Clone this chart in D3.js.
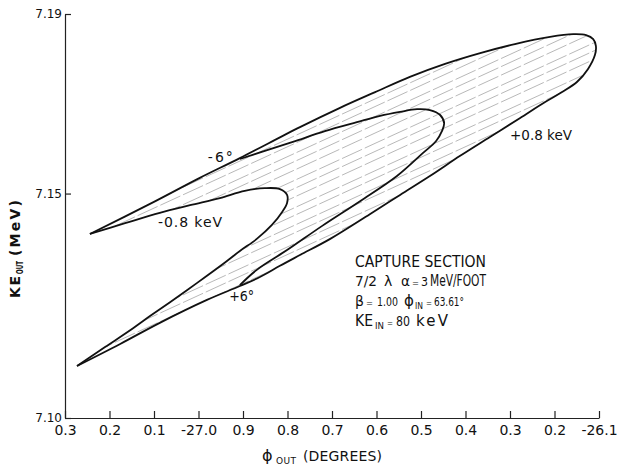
<!DOCTYPE html>
<html>
<head>
<meta charset="utf-8">
<script src="https://cdnjs.cloudflare.com/ajax/libs/d3/7.8.5/d3.min.js"></script>
<style>
  body { margin: 0; background: #fff; }
  svg { display: block; font-family: 'DejaVu Sans', sans-serif; }
</style>
</head>
<body>
<svg width="620" height="471"></svg>
<script>
// phase axis is printed with only the last digits, except at -27.0 and -26.1
const phiTicks = [-27.3, -27.2, -27.1, -27.0, -26.9, -26.8, -26.7, -26.6, -26.5, -26.4, -26.3, -26.2, -26.1];
const phiTickLabels = ['0.3', '0.2', '0.1', '-27.0', '0.9', '0.8', '0.7', '0.6', '0.5', '0.4', '0.3', '0.2', '-26.1'];
const keTicks = [7.10, 7.15, 7.19];
const keTickLabels = ['7.10', '7.15', '7.19'];

// [phi_out (deg), KE_out (MeV)]
// -0.8 keV contour, from the upper tip round its nose to the lower tip
const minusKevCurve = [
  [-27.244, 7.1410], [-27.165, 7.1434], [-27.087, 7.1457], [-27.019, 7.1474],
  [-26.952, 7.1490], [-26.896, 7.1506], [-26.851, 7.1512], [-26.817, 7.1510],
  [-26.801, 7.1497], [-26.801, 7.1479], [-26.812, 7.1459], [-26.835, 7.1430],
  [-26.869, 7.1399], [-26.907, 7.1372], [-26.945, 7.1343], [-27.003, 7.1301],
  [-27.064, 7.1258], [-27.109, 7.1227], [-27.147, 7.1200], [-27.210, 7.1158],
  [-27.273, 7.1116]
];
// -6 deg line, +0.8 keV contour and +6 deg line as one outer boundary
const outerCurve = [
  [-27.244, 7.1410], [-27.109, 7.1477], [-26.997, 7.1535], [-26.907, 7.1579],
  [-26.772, 7.1648], [-26.682, 7.1691], [-26.603, 7.1726], [-26.525, 7.1760],
  [-26.446, 7.1789], [-26.367, 7.1813], [-26.289, 7.1833], [-26.210, 7.1849],
  [-26.158, 7.1855], [-26.129, 7.1853], [-26.113, 7.1844], [-26.107, 7.1829],
  [-26.109, 7.1809], [-26.125, 7.1777], [-26.149, 7.1749], [-26.183, 7.1726],
  [-26.221, 7.1704], [-26.278, 7.1668], [-26.345, 7.1626], [-26.412, 7.1584],
  [-26.480, 7.1539], [-26.547, 7.1497], [-26.615, 7.1454], [-26.704, 7.1399],
  [-26.772, 7.1363], [-26.817, 7.1339], [-26.862, 7.1314], [-26.907, 7.1294],
  [-26.981, 7.1263], [-27.087, 7.1212], [-27.176, 7.1165], [-27.273, 7.1116]
];
// inner fold between the two phase lines
const middleCurve = [
  [-26.907, 7.1577], [-26.851, 7.1595], [-26.788, 7.1615], [-26.716, 7.1639],
  [-26.644, 7.1659], [-26.592, 7.1673], [-26.547, 7.1682], [-26.509, 7.1688],
  [-26.480, 7.1686], [-26.457, 7.1675], [-26.448, 7.1657], [-26.453, 7.1639],
  [-26.466, 7.1617], [-26.496, 7.1590], [-26.554, 7.1539], [-26.637, 7.1483],
  [-26.722, 7.1428], [-26.801, 7.1374], [-26.869, 7.1330], [-26.907, 7.1296]
];

// hatching (intermediate phases): KE at the left and right ends
const hatchPhi = [-27.29, -26.10];
const hatchKeLeft = [7.1398, 7.1381, 7.1359, 7.1341, 7.1322, 7.1299, 7.1281, 7.1262,
                     7.1238, 7.1221, 7.1199, 7.1182, 7.1158, 7.1141, 7.1122];
const hatchKeRight = [7.1940, 7.1923, 7.1901, 7.1883, 7.1864, 7.1841, 7.1823, 7.1804,
                      7.1780, 7.1763, 7.1741, 7.1724, 7.1700, 7.1683, 7.1664];

const curveLabels = ['-6°', '-0.8 keV', '+6°', '+0.8 keV'];
const curveLabelPhi = [-26.979, -27.091, -26.931, -26.300];
const curveLabelKe = [7.1570, 7.1425, 7.1261, 7.1619];

const svg = d3.select('svg');
const x = d3.scaleLinear().domain([-27.3, -26.1]).range([65, 599]);
const y = d3.scaleLinear().domain([7.10, 7.19]).range([418, 14]);

// stretch or squeeze a text to the width it has in the drawing
function fit(sel, len) {
  sel.each(function() {
    const w = this.getComputedTextLength();
    d3.select(this)
      .attr('textLength', len)
      .attr('lengthAdjust', w > len ? 'spacingAndGlyphs' : 'spacing');
  });
}

const line = d3.line()
  .x(d => x(d[0]))
  .y(d => y(d[1]))
  .curve(d3.curveCatmullRom.alpha(0.5));

// hatch lines only inside the band between the outer boundary and -0.8 keV
const clipD = line(outerCurve) + line(minusKevCurve.slice().reverse()).replace(/^M/, 'L') + 'Z';
svg.append('defs').append('clipPath').attr('id', 'band')
  .append('path').attr('d', clipD);

svg.append('g')
  .attr('clip-path', 'url(#band)')
  .selectAll('line')
  .data(hatchKeLeft)
  .join('line')
  .attr('x1', x(hatchPhi[0]))
  .attr('y1', d => y(d))
  .attr('x2', x(hatchPhi[1]))
  .attr('y2', (d, i) => y(hatchKeRight[i]))
  .attr('stroke', '#888')
  .attr('stroke-width', 0.6)
  .attr('stroke-dasharray', '22 3');

svg.append('g')
  .attr('fill', 'none')
  .attr('stroke', '#111')
  .attr('stroke-width', 1.8)
  .attr('stroke-linejoin', 'round')
  .selectAll('path')
  .data([minusKevCurve, outerCurve, middleCurve])
  .join('path')
  .attr('d', d => line(d));

// axes, ticks pointing inwards
const xAxis = svg.append('g')
  .attr('transform', 'translate(0,418)')
  .call(d3.axisBottom(x)
    .tickValues(phiTicks)
    .tickFormat((d, i) => phiTickLabels[i])
    .tickSizeInner(-7)
    .tickSizeOuter(0)
    .tickPadding(7));

const yAxis = svg.append('g')
  .attr('transform', 'translate(65,0)')
  .call(d3.axisLeft(y)
    .tickValues(keTicks)
    .tickFormat((d, i) => keTickLabels[i])
    .tickSizeInner(-6)
    .tickSizeOuter(0)
    .tickPadding(3));

[xAxis, yAxis].forEach(g => {
  g.attr('font-family', null);
  g.selectAll('path, line').attr('stroke', '#222').attr('stroke-width', 1.2);
  g.selectAll('text').attr('fill', '#111');
});
xAxis.attr('font-size', 14);
yAxis.attr('font-size', 12);

// labels on the curves
const lbl = svg.append('g').attr('font-size', 14).attr('fill', '#111');
lbl.selectAll('text')
  .data(curveLabels)
  .join('text')
  .attr('x', (d, i) => x(curveLabelPhi[i]))
  .attr('y', (d, i) => y(curveLabelKe[i]))
  .text(d => d);
const lblWidths = [25, 64, 25, 62];
lbl.selectAll('text').each(function(d, i) { fit(d3.select(this), lblWidths[i]); });

// parameter block, one text per line: [text, x, size, width, shift down]
const infoLines = [
  [267, [['CAPTURE SECTION', 355, 15, 131, 0]]],
  [286, [['7/2', 355, 14, 22, 0], ['λ', 384, 14, 9, 0], ['α', 401, 14, 9, 0],
         ['=', 412, 9, 7, 0], ['3', 421, 12, 7, 0], ['MeV/FOOT', 430, 15, 56, 0]]],
  [306, [['β', 355, 14, 10, 0], ['=', 366, 9, 7, 0], ['1.00', 377, 12, 21, 0],
         ['ϕ', 404, 15, 10, 0], ['IN', 415, 9, 8, 3], ['=', 426, 9, 6, 0],
         ['63.61°', 434, 12, 30, 0]]],
  [326, [['KE', 355, 15, 18, 0], ['IN', 375, 9, 9, 3], ['=', 387, 9, 6, 0],
         ['80', 396, 14, 14, 0], ['keV', 416, 15, 32, 0]]]
];
const info = svg.append('g').attr('fill', '#111');
infoLines.forEach(([base, parts]) => {
  const t = info.append('text');
  parts.forEach(p => {
    t.append('tspan')
      .attr('x', p[1]).attr('y', base + p[4]).attr('font-size', p[2])
      .text(p[0])
      .call(fit, p[3]);
  });
});

// axis titles
const xt = svg.append('text').attr('fill', '#111');
xt.append('tspan').attr('x', 262).attr('y', 461).attr('font-size', 16).text('ϕ').call(fit, 11);
xt.append('tspan').attr('x', 276).attr('y', 464).attr('font-size', 9).text('OUT').call(fit, 20);
xt.append('tspan').attr('x', 303).attr('y', 461).attr('font-size', 14).text('(DEGREES)').call(fit, 79);

const yt = svg.append('text')
  .attr('transform', 'translate(20,298) rotate(-90)')
  .attr('fill', '#111')
  .attr('font-weight', 'bold');
yt.append('tspan').attr('x', 0).attr('y', 0).attr('font-size', 14).text('KE').call(fit, 22);
yt.append('tspan').attr('x', 24).attr('y', 3).attr('font-size', 8).text('OUT').call(fit, 13);
yt.append('tspan').attr('x', 42).attr('y', 0).attr('font-size', 14).text('(MeV)').call(fit, 56);
</script>
</body>
</html>
